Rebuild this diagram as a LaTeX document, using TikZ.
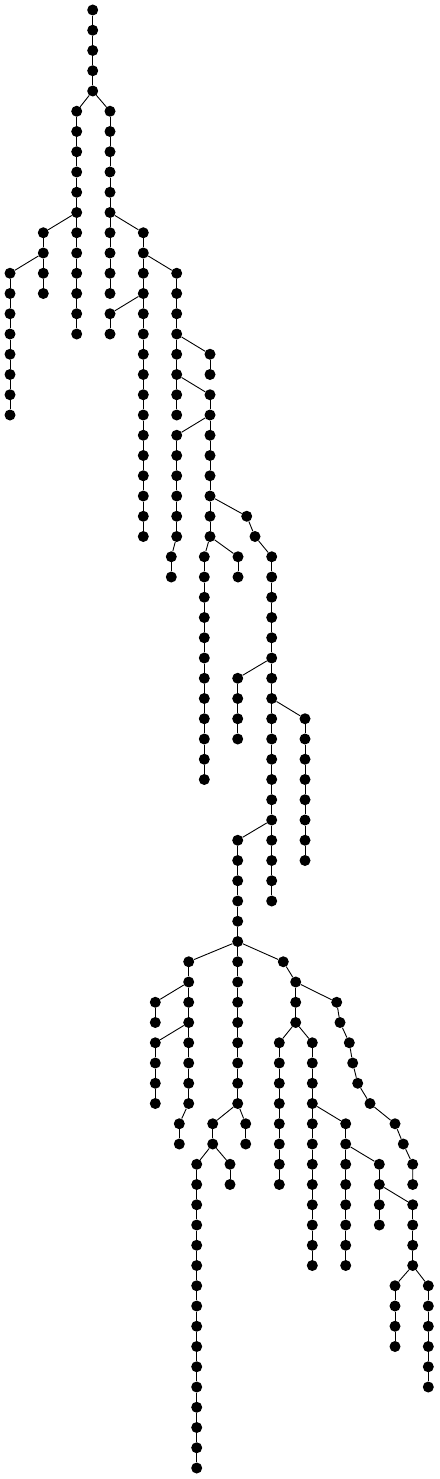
\documentclass[tikz,border=0pt]{standalone}
\tikzset{vertex/.style={circle, fill=black, inner sep=0pt, minimum size=11pt}, edge/.style={line width=0.9pt}}
% vertical run of vertices: name, x, first level, last level
\newcommand{\vchain}[4]{%
  \foreach \l in {#3,...,#4}{%
    \node[vertex] (#1\l) at (#2, {20.25*\l+10}) {};
    \ifnum\l>#3\relax
      \pgfmathtruncatemacro{\prevl}{\l-1}%
      \draw[edge] (#1\prevl) -- (#1\l);
    \fi
  }%
}
\newcommand{\vnode}[3]{\node[vertex] (#1) at (#2, {20.25*#3+10}) {};}
\begin{document}
\begin{tikzpicture}[x=1pt, y=-1pt]
    \useasboundingbox (0,0) rectangle (439,1479);
    \vchain{t}{92.7}{0}{4}
    \vchain{a}{76.7}{5}{16}
    \vchain{b}{110}{5}{14}
    \vchain{c}{43.3}{11}{14}
    \vchain{d}{10}{13}{20}
    \vchain{e}{143.3}{11}{26}
    \vchain{f}{176.7}{13}{20}
    \vchain{g}{110}{15}{16}
    \vchain{h}{210}{17}{18}
    \vchain{i}{210}{19}{26}
    \vchain{j}{176.7}{21}{26}
    \vchain{jj}{171.3}{27}{28}
    \vchain{k}{204.3}{27}{38}
    \vchain{l}{238}{27}{28}
    \vnode{m25}{246.7}{25}
    \vnode{m26}{255}{26}
    \vchain{n}{271.7}{27}{44}
    \vchain{o}{237.7}{33}{36}
    \vchain{p}{305}{35}{42}
    \vchain{q}{237.7}{41}{54}
    \vchain{r}{188.7}{47}{54}
    \vchain{rr}{179.3}{55}{56}
    \vchain{s}{155.3}{49}{50}
    \vchain{u}{155.3}{51}{54}
    \vnode{v47}{283.3}{47}
    \vchain{v}{295.7}{48}{50}
    \vchain{w}{279.3}{51}{58}
    \vchain{y}{312.3}{51}{62}
    % zigzag on the right
    \vnode{z49}{336.7}{49}
    \vnode{z50}{340}{50}
    \vnode{z51}{349.3}{51}
    \vnode{z52}{352.7}{52}
    \vnode{z53}{357.7}{53}
    \vnode{z54}{370}{54}
    \vnode{z55}{395}{55}
    \vnode{z56}{403.3}{56}
    \vnode{z57}{412.7}{57}
    \vnode{z58}{412.7}{58}
    \vchain{aa}{212.7}{55}{56}
    \vchain{bb}{245.7}{55}{56}
    \vchain{cc}{196.7}{57}{72}
    \vchain{dd}{230}{57}{58}
    \vchain{ee}{345.7}{55}{62}
    \vchain{ff}{379.3}{57}{60}
    \vchain{gg}{412.7}{59}{62}
    \vchain{hh}{395}{63}{66}
    \vchain{ii}{428.3}{63}{68}
    % branch edges
    \draw[edge] (t4) -- (a5);
    \draw[edge] (t4) -- (b5);
    \draw[edge] (a10) -- (c11);
    \draw[edge] (c12) -- (d13);
    \draw[edge] (b10) -- (e11);
    \draw[edge] (e12) -- (f13);
    \draw[edge] (e14) -- (g15);
    \draw[edge] (f16) -- (h17);
    \draw[edge] (f18) -- (i19);
    \draw[edge] (i20) -- (j21);
    \draw[edge] (j26) -- (jj27);
    \draw[edge] (i26) -- (k27);
    \draw[edge] (i26) -- (l27);
    \draw[edge] (i24) -- (m25) -- (m26) -- (n27);
    \draw[edge] (n32) -- (o33);
    \draw[edge] (n34) -- (p35);
    \draw[edge] (n40) -- (q41);
    \draw[edge] (q46) -- (r47);
    \draw[edge] (r54) -- (rr55);
    \draw[edge] (r48) -- (s49);
    \draw[edge] (r50) -- (u51);
    \draw[edge] (q46) -- (v47) -- (v48);
    \draw[edge] (v50) -- (w51);
    \draw[edge] (v50) -- (y51);
    \draw[edge] (v48) -- (z49) -- (z50) -- (z51) -- (z52) -- (z53) -- (z54) -- (z55) -- (z56) -- (z57) -- (z58);
    \draw[edge] (q54) -- (aa55);
    \draw[edge] (q54) -- (bb55);
    \draw[edge] (aa56) -- (cc57);
    \draw[edge] (aa56) -- (dd57);
    \draw[edge] (y54) -- (ee55);
    \draw[edge] (ee56) -- (ff57);
    \draw[edge] (ff58) -- (gg59);
    \draw[edge] (gg62) -- (hh63);
    \draw[edge] (gg62) -- (ii63);
\end{tikzpicture}
\end{document}
